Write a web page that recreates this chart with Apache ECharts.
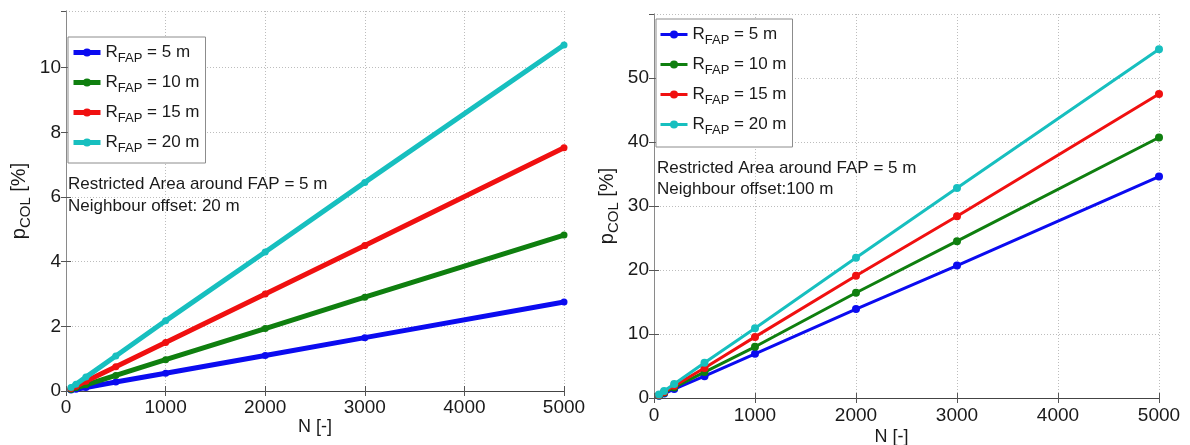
<!DOCTYPE html>
<html>
<head>
<meta charset="utf-8">
<script src="https://cdn.jsdelivr.net/npm/echarts@6/dist/echarts.min.js"></script>
<style>
html, body { margin: 0; padding: 0; background: #fff; }
#chart { width: 1190px; height: 445px; }
</style>
</head>
<body>
<div id="chart"></div>
<script>
// Number of nodes N on the x axis
const nValues = [50, 100, 200, 500, 1000, 2000, 3000, 5000];
const xTicks = [0, 1000, 2000, 3000, 4000, 5000];
const radii = ['5', '10', '15', '20'];
const colors = ['#0b0bf0', '#0f7f0f', '#f01010', '#17bfbf'];

// Collision probability [%], neighbour offset 20 m
const off20_r5  = [0.03, 0.055, 0.11, 0.28, 0.55, 1.10, 1.65, 2.75];
const off20_r10 = [0.05, 0.10, 0.19, 0.48, 0.97, 1.93, 2.90, 4.82];
const off20_r15 = [0.075, 0.15, 0.30, 0.75, 1.50, 3.00, 4.50, 7.52];
const off20_r20 = [0.11, 0.21, 0.43, 1.08, 2.17, 4.30, 6.45, 10.70];

// Collision probability [%], neighbour offset 100 m
const off100_r5  = [0.35, 0.70, 1.40, 3.40, 6.90, 13.90, 20.70, 34.60];
const off100_r10 = [0.41, 0.82, 1.65, 4.05, 8.00, 16.45, 24.50, 40.70];
const off100_r15 = [0.48, 0.95, 1.90, 4.70, 9.55, 19.10, 28.40, 47.50];
const off100_r20 = [0.55, 1.10, 2.20, 5.50, 10.90, 21.90, 32.80, 54.50];

const leftSets = [off20_r5, off20_r10, off20_r15, off20_r20];
const rightSets = [off100_r5, off100_r10, off100_r15, off100_r20];

const FONT = "'Liberation Sans', Arial, Helvetica, sans-serif";
const TXT = '#1a1a1a';

const chart = echarts.init(document.getElementById('chart'), null, { renderer: 'canvas' });

function pairs(vals) { return nValues.map((n, i) => [n, vals[i]]); }

const legendLabel = {};
function makeSeries(sets, prefix, gridIdx, width, symSize) {
  return sets.map((vals, i) => {
    const name = prefix + radii[i];
    legendLabel[name] = radii[i];
    return {
      name: name,
      type: 'line',
      xAxisIndex: gridIdx * 2,
      yAxisIndex: gridIdx * 2,
      data: pairs(vals),
      symbol: 'circle',
      symbolSize: symSize,
      showSymbol: true,
      color: colors[i],
      lineStyle: { width: width, color: colors[i] },
      itemStyle: { color: colors[i] },
      animation: false,
      z: 3 + i
    };
  });
}

const seriesLeft = makeSeries(leftSets, 'a', 0, 5, 7);
const seriesRight = makeSeries(rightSets, 'b', 1, 3, 8);

function xAxes(gridIndex, labelMargin, nameGap, namePad) {
  return [
    {
      type: 'value', gridIndex: gridIndex, position: 'bottom',
      min: xTicks[0], max: xTicks[xTicks.length - 1], interval: 1000,
      axisLine: { show: true, lineStyle: { color: '#8a8a8a', width: 1 } },
      axisTick: { show: true, inside: true, length: 5, lineStyle: { color: '#555' } },
      axisLabel: { color: TXT, fontFamily: FONT, fontSize: 19, margin: labelMargin, formatter: v => String(v) },
      splitLine: { show: true, lineStyle: { color: '#bdbdbd', type: [1, 2], width: 1 } },
      name: 'N [-]', nameLocation: 'middle', nameGap: nameGap, nameMoveOverlap: false,
      nameTextStyle: { color: TXT, fontFamily: FONT, fontSize: 18, padding: [0, namePad, 0, 0] }
    },
    {
      type: 'value', gridIndex: gridIndex, position: 'top',
      min: xTicks[0], max: xTicks[xTicks.length - 1], interval: 1000,
      axisLine: { show: true, lineStyle: { color: '#444', width: 1 } },
      axisTick: { show: true, inside: true, length: 5, lineStyle: { color: '#555' } },
      axisLabel: { show: false },
      splitLine: { show: false }
    }
  ];
}

function yAxes(gridIndex, max, interval, gap) {
  return [
    {
      type: 'value', gridIndex: gridIndex, position: 'left',
      min: 0, max: max, interval: interval,
      axisLine: { show: true, lineStyle: { color: '#a0a0a0', width: 1 } },
      axisTick: { show: true, inside: true, length: 5, lineStyle: { color: '#555' } },
      axisLabel: {
        color: TXT, fontFamily: FONT, fontSize: 19, margin: 5,
        showMaxLabel: false,
        formatter: v => (Math.abs(v / interval - Math.round(v / interval)) < 1e-6 ? String(v) : '')
      },
      splitLine: { show: true, lineStyle: { color: '#bdbdbd', type: [1, 2], width: 1 } },
      name: '{p|p}{s|COL}{p| [%]}', nameLocation: 'middle', nameGap: gap, nameRotate: 90,
      nameTextStyle: {
        color: TXT, fontFamily: FONT, fontSize: 20,
        rich: {
          p: { fontFamily: FONT, fontSize: 20, color: TXT, lineHeight: 22 },
          s: { fontFamily: FONT, fontSize: 15, color: TXT, lineHeight: 16, padding: [14, 0, 0, 0] }
        }
      }
    },
    {
      type: 'value', gridIndex: gridIndex, position: 'right',
      min: 0, max: max, interval: interval,
      axisLine: { show: true, lineStyle: { color: '#8a8a8a', width: 1 } },
      axisTick: { show: true, inside: true, length: 5, lineStyle: { color: '#555' } },
      axisLabel: { show: false },
      splitLine: { show: false }
    }
  ];
}

function legendFor(seriesList, left, top, gap, padBottom) {
  return {
    show: true,
    data: seriesList.map(s => s.name),
    orient: 'vertical',
    left: left, top: top,
    backgroundColor: '#fff',
    borderColor: '#8c8c8c', borderWidth: 1, borderRadius: 0,
    padding: [3, 6, padBottom, 3],
    itemGap: gap,
    itemWidth: 27, itemHeight: 10,
    selectedMode: false,
    lineStyle: { width: 'inherit' },
    formatter: name => '{r|R}{s|FAP}{r| = ' + legendLabel[name] + ' m}',
    textStyle: {
      color: TXT, fontFamily: FONT, fontSize: 17,
      rich: {
        r: { fontFamily: FONT, fontSize: 17, color: TXT, lineHeight: 19 },
        s: { fontFamily: FONT, fontSize: 13, color: TXT, lineHeight: 14, padding: [12, 0, 0, 0] }
      }
    }
  };
}

function note(x, y, text) {
  return {
    type: 'text', left: x, top: y, z: 100,
    style: { text: text, fill: TXT, font: '17px ' + FONT, verticalAlign: 'top' }
  };
}

const option = {
  backgroundColor: '#fff',
  animation: false,
  grid: [
    { left: 66, right: 1190 - 564, top: 11, bottom: 445 - 391, containLabel: false, outerBoundsMode: 'none' },
    { left: 654, right: 1190 - 1159, top: 14, bottom: 445 - 398, containLabel: false, outerBoundsMode: 'none' }
  ],
  xAxis: [...xAxes(0, 7, 27, 0), ...xAxes(1, 8, 30, 30)],
  yAxis: [...yAxes(0, 11.75, 2, 36), ...yAxes(1, 60, 10, 36)],
  legend: [
    legendFor(seriesLeft, 68, 37, 5, 8),
    legendFor(seriesRight, 656, 19, 5, 10)
  ],
  graphic: [
    note(68, 176, 'Restricted Area around FAP = 5 m'),
    note(68, 198, 'Neighbour offset: 20 m'),
    note(657, 160, 'Restricted Area around FAP = 5 m'),
    note(657, 181, 'Neighbour offset:100 m')
  ],
  series: [...seriesLeft, ...seriesRight]
};

chart.setOption(option);
</script>
</body>
</html>
